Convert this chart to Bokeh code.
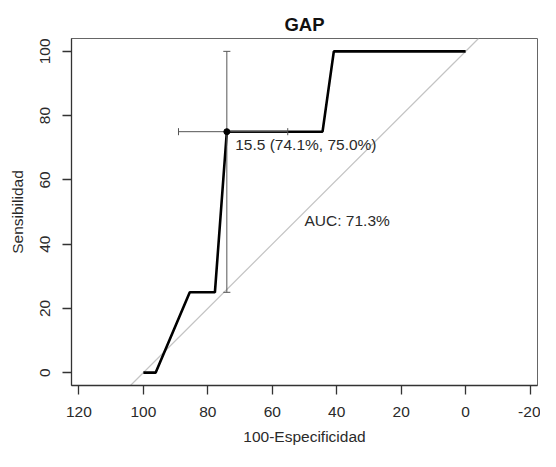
from bokeh.plotting import figure
from bokeh.models import Range1d, FixedTicker, Label
from bokeh.embed import file_html
from bokeh.resources import INLINE

# ---- data ----
roc_spec = [100, 96.2, 85.6, 77.8, 74.1, 44.4, 40.9, 0]
roc_sens = [0, 0, 25, 25, 75, 75, 100, 100]

best_threshold = 15.5
best_spec = 74.1
best_sens = 75.0
ci_spec = [89.1, 55.2]
ci_sens = [25.0, 100.0]
auc = 71.3

diag_spec = [104, -4]
diag_sens = [-4, 104]

x_ticks = [120, 100, 80, 60, 40, 20, 0, -20]
x_tick_labels = ["120", "100", "80", "60", "40", "20", "0", "-20"]
y_ticks = [0, 20, 40, 60, 80, 100]

FONT = "Liberation Sans"
serif = 1.1  # half-length of CI end caps, data units

p = figure(width=540, height=451, output_backend="svg", toolbar_location=None,
           x_range=Range1d(122.3, -22.3), y_range=Range1d(-4, 104),
           min_border_left=71, min_border_right=3, min_border_top=38,
           min_border_bottom=66)
p.background_fill_color = "white"
p.border_fill_color = "white"
p.outline_line_color = "#666666"
p.outline_line_width = 1
p.xgrid.visible = False
p.ygrid.visible = False

p.title.text = "GAP"
p.title.align = "center"
p.title.text_font = FONT
p.title.text_font_size = "18.5px"
p.title.text_font_style = "bold"
p.title.text_color = "#111111"
p.title.standoff = 7

for ax in (p.xaxis[0], p.yaxis[0]):
    ax.axis_line_color = "#333333"
    ax.axis_line_width = 1.3
    ax.major_tick_line_color = "#333333"
    ax.major_tick_line_width = 1.3
    ax.major_tick_out = 9
    ax.major_tick_in = 0
    ax.minor_tick_out = 0
    ax.minor_tick_in = 0
    ax.major_label_text_font = FONT
    ax.major_label_text_font_size = "15.5px"
    ax.major_label_text_color = "#2a2a2a"
    ax.axis_label_text_font = FONT
    ax.axis_label_text_font_size = "15.5px"
    ax.axis_label_text_font_style = "normal"
    ax.axis_label_text_color = "#2a2a2a"

p.xaxis.ticker = FixedTicker(ticks=x_ticks)
p.xaxis.major_label_overrides = {t: s for t, s in zip(x_ticks, x_tick_labels)}
p.yaxis.ticker = FixedTicker(ticks=y_ticks)
p.xaxis.axis_label = "100-Especificidad"
p.yaxis.axis_label = "Sensibilidad"
p.yaxis.major_label_orientation = "vertical"
p.xaxis.major_label_standoff = 12
p.yaxis.major_label_standoff = 12
p.xaxis.axis_label_standoff = 8
p.yaxis.axis_label_standoff = 12

p.line(diag_spec, diag_sens, line_color="#C4C4C4", line_width=1.2)
p.line(roc_spec, roc_sens, line_color="#000000", line_width=2.6)

p.segment(x0=[best_spec], y0=[ci_sens[0]], x1=[best_spec], y1=[ci_sens[1]],
          line_color="#555555", line_width=1)
p.segment(x0=[ci_spec[0]], y0=[best_sens], x1=[ci_spec[1]], y1=[best_sens],
          line_color="#555555", line_width=1)
p.segment(x0=[best_spec - serif, best_spec - serif], y0=ci_sens,
          x1=[best_spec + serif, best_spec + serif], y1=ci_sens,
          line_color="#555555", line_width=1)
p.segment(x0=ci_spec, y0=[best_sens - serif, best_sens - serif],
          x1=ci_spec, y1=[best_sens + serif, best_sens + serif],
          line_color="#555555", line_width=1)

p.scatter([best_spec], [best_sens], size=6, color="#000000")

thr_text = f"{best_threshold} ({best_spec:.1f}%, {best_sens:.1f}%)"
p.add_layout(Label(x=best_spec - 2.6, y=best_sens - 1.2, text=thr_text,
                   text_font=FONT, text_font_size="15.5px", text_color="#2a2a2a",
                   text_align="left", text_baseline="top"))
p.add_layout(Label(x=50, y=50, text=f"AUC: {auc}%",
                   text_font=FONT, text_font_size="15.5px", text_color="#2a2a2a",
                   text_align="left", text_baseline="top"))

open("out.html", "w").write(file_html(p, INLINE))
